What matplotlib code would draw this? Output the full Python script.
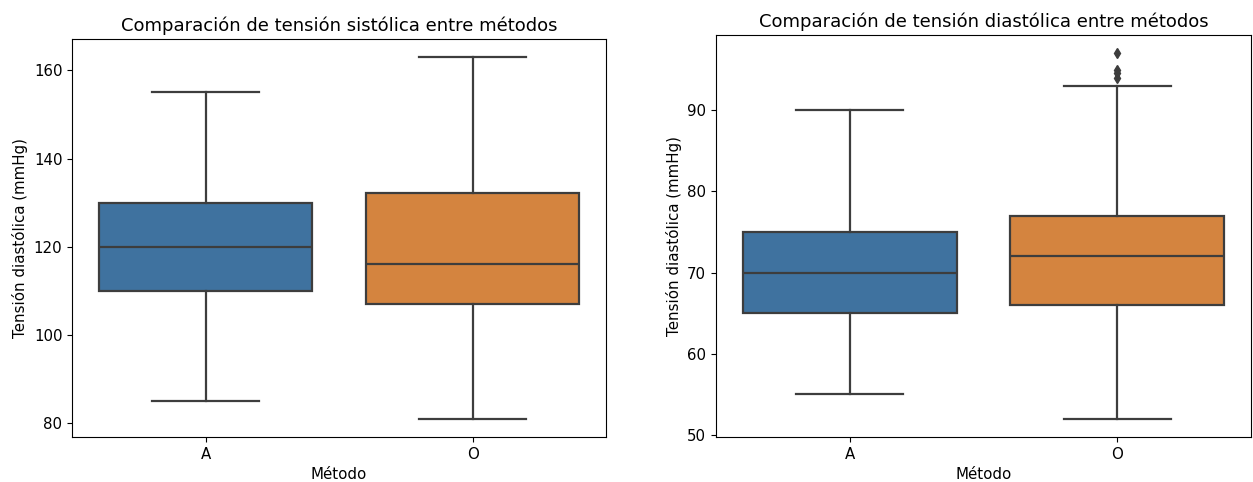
import numpy as np
import matplotlib
matplotlib.use("Agg")
import matplotlib.pyplot as plt

# categorías
metodos = ['A', 'O']

# tensión sistólica: resumen de cajas
sis_whislo = [85, 81]
sis_q1 = [110, 107]
sis_med = [120, 116]
sis_q3 = [130, 132.3]
sis_whishi = [155, 163]
sis_fliers = [[], []]

# tensión diastólica
dia_whislo = [55, 52]
dia_q1 = [65, 66]
dia_med = [70, 72]
dia_q3 = [75, 77]
dia_whishi = [90, 93]
dia_fliers = [[], [94, 94.6, 95, 97]]

colores = ['#3f729f', '#d4843f']
gris = '#3d3d3d'

plt.rcParams['font.size'] = 10.8


def make_stats(whislo, q1, med, q3, whishi, fliers):
    stats = []
    for i in range(len(med)):
        stats.append({'whislo': whislo[i], 'q1': q1[i], 'med': med[i],
                      'q3': q3[i], 'whishi': whishi[i],
                      'fliers': np.array(fliers[i])})
    return stats


def drawBox(ax, stats, title, xlabel, ylabel):
    pos = np.arange(len(stats))
    bp = ax.bxp(stats, positions=pos, widths=0.8, patch_artist=True,
                boxprops=dict(edgecolor=gris, linewidth=1.6),
                medianprops=dict(color=gris, linewidth=1.6),
                whiskerprops=dict(color=gris, linewidth=1.6),
                capprops=dict(color=gris, linewidth=1.6),
                flierprops=dict(marker='d', markerfacecolor=gris,
                                markeredgecolor=gris, markersize=5.5))
    for patch, c in zip(bp['boxes'], colores):
        patch.set_facecolor(c)
    ax.set_xlim(-0.5, len(stats) - 0.5)
    ax.set_xticks(pos)
    ax.set_xticklabels(metodos)
    ax.set_title(title, fontsize=13)
    ax.set_xlabel(xlabel)
    ax.set_ylabel(ylabel)


fig = plt.figure(figsize=(12.53, 4.82), dpi=100)
ax1 = fig.add_axes([0.0575, 0.0934, 0.4262, 0.8257])
ax2 = fig.add_axes([0.5714, 0.0934, 0.4270, 0.8340])

drawBox(ax1, make_stats(sis_whislo, sis_q1, sis_med, sis_q3, sis_whishi, sis_fliers),
        'Comparación de tensión sistólica entre métodos', 'Método', 'Tensión diastólica (mmHg)')
drawBox(ax2, make_stats(dia_whislo, dia_q1, dia_med, dia_q3, dia_whishi, dia_fliers),
        'Comparación de tensión diastólica entre métodos', 'Método', 'Tensión diastólica (mmHg)')
ax1.set_yticks([80, 100, 120, 140, 160])
ax2.set_yticks([50, 60, 70, 80, 90])

fig.savefig('out.png', dpi=100)
